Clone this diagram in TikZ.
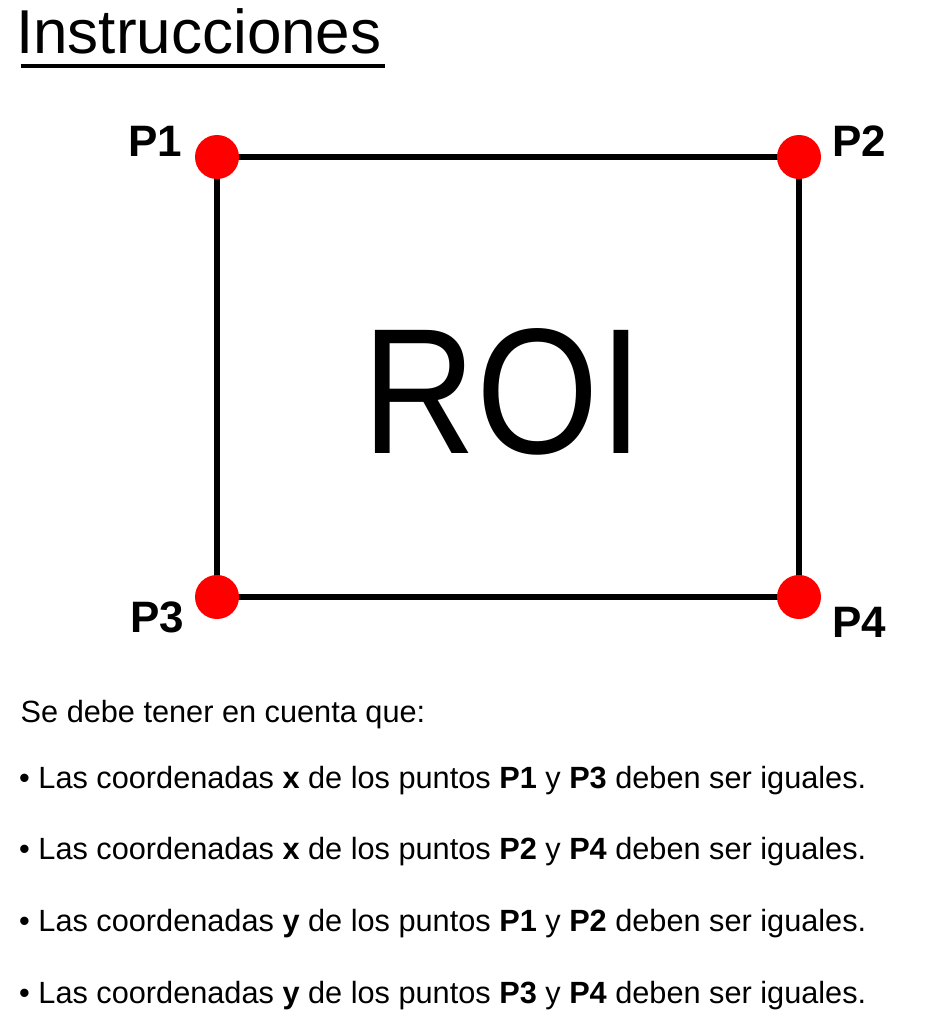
\documentclass[tikz,border=0pt]{standalone}
\usepackage{fontspec}
\setmainfont{Liberation Sans}
\usetikzlibrary{backgrounds}

\tikzset{
  corner/.style={circle, fill=red, minimum size=44pt, inner sep=0pt},
  cornerlabel/.style={font=\fontsize{44}{50}\selectfont\bfseries, inner sep=0pt},
  bodytext/.style={anchor=base west, inner sep=0pt, font=\fontsize{30.7}{36}\selectfont},
}

\begin{document}
\begin{tikzpicture}[x=1pt, y=-1pt]
  \useasboundingbox (0,0) rectangle (931,1025);
  % title
  \node[anchor=base west, inner sep=0pt, font=\fontsize{62}{70}\selectfont]
    (title) at (16,54) {Instrucciones};
  \draw[line width=4pt] (21,66) -- (385,66);
  % corners of the ROI
  \node[corner] (p1) at (217,157) {};
  \node[corner] (p2) at (799,157) {};
  \node[corner] (p3) at (217,597) {};
  \node[corner] (p4) at (799,597) {};
  \begin{scope}[on background layer]
    \draw[line width=6pt]
      (p1.center) -- (p2.center) -- (p4.center) -- (p3.center) -- cycle;
  \end{scope}
  \node[cornerlabel] (l1) at (155,141) {P1};
  \node[cornerlabel] (l2) at (859,141) {P2};
  \node[cornerlabel] (l3) at (157,617) {P3};
  \node[cornerlabel] (l4) at (859,622) {P4};
  \node[anchor=base, inner sep=0pt, font=\fontsize{179}{190}\selectfont]
    (roi) at (503,453) {\scalebox{0.88}[1]{ROI}};
  % notes
  \node[bodytext] (note) at (20.5,722) {Se debe tener en cuenta que:};
  \foreach \k/\a/\b [count=\i] in {x/P1/P3, x/P2/P4, y/P1/P2, y/P3/P4}
    \node[bodytext] (rule\i) at (19, 716.3+71.7*\i)
      {• Las coordenadas \textbf{\k} de los puntos \textbf{\a} y \textbf{\b} deben ser iguales.};
\end{tikzpicture}
\end{document}
